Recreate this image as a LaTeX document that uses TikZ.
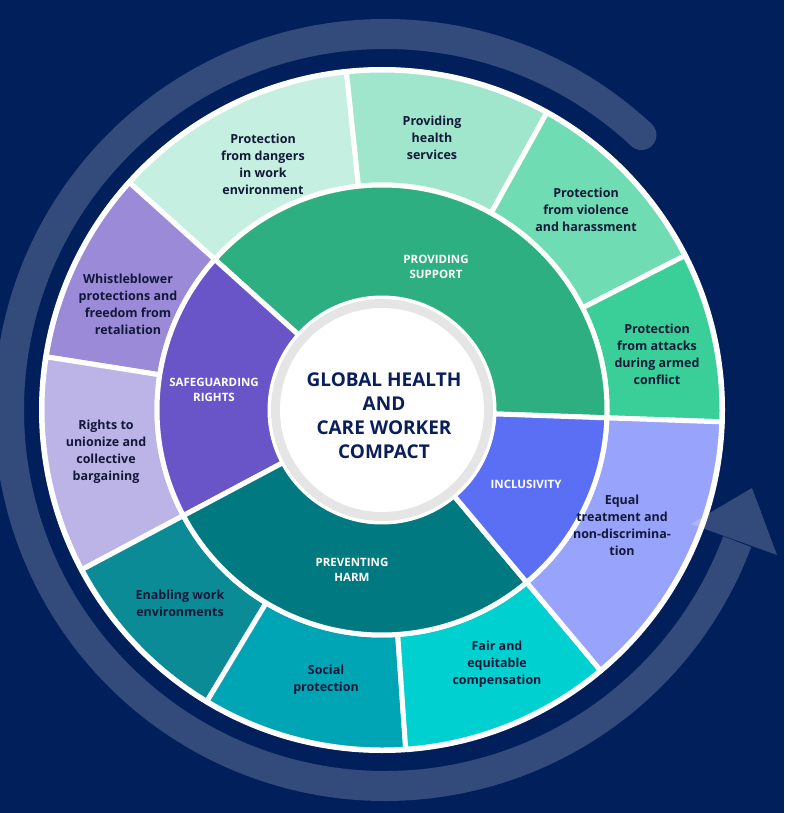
\documentclass[tikz,border=0pt]{standalone}
\usepackage{fontspec}
\setmainfont{Open Sans}
\definecolor{bg}{RGB}{0,31,91}
\definecolor{navy}{RGB}{18,24,56}
\definecolor{cnavy}{RGB}{10,30,90}
\definecolor{cA}{RGB}{46,175,130}
\definecolor{cA1}{RGB}{197,239,224}
\definecolor{cA2}{RGB}{160,230,204}
\definecolor{cA3}{RGB}{111,220,180}
\definecolor{cA4}{RGB}{58,207,152}
\definecolor{cB}{RGB}{106,85,200}
\definecolor{cB1}{RGB}{154,138,216}
\definecolor{cB2}{RGB}{188,179,230}
\definecolor{cC}{RGB}{0,122,128}
\definecolor{cC1}{RGB}{10,139,150}
\definecolor{cC2}{RGB}{0,165,181}
\definecolor{cC3}{RGB}{0,208,208}
\definecolor{cD}{RGB}{91,111,245}
\definecolor{cD1}{RGB}{152,164,251}
\newcommand{\seg}[5]{\fill[#5,draw=white,line width=5] (-#1:#3) arc[start angle=-#1,end angle=-#2,radius=#3] -- (-#2:#4) arc[start angle=-#2,end angle=-#1,radius=#4] -- cycle;}
\tikzset{outer/.style={text=navy,font=\fontsize{12.5}{17}\selectfont\bfseries,align=center},
inner/.style={text=white,font=\fontsize{11.5}{15}\selectfont\bfseries,align=center}}
\begin{document}
\begin{tikzpicture}[x=1pt,y=-1pt]
\fill[bg] (0,0) rectangle (784,813);
\useasboundingbox (0,0) rectangle (784,813);
\begin{scope}[shift={(382,410)}]
\fill[white] (0,0) circle (343);
\seg{138}{96}{225}{340}{cA1}
\seg{96}{61}{225}{340}{cA2}
\seg{61}{27}{225}{340}{cA3}
\seg{27}{-2}{225}{340}{cA4}
\seg{171}{138}{225}{340}{cB1}
\seg{208}{171}{225}{340}{cB2}
\seg{239}{208}{225}{340}{cC1}
\seg{274}{239}{225}{340}{cC2}
\seg{310}{274}{225}{340}{cC3}
\seg{358}{310}{225}{340}{cD1}
\seg{138}{-2}{112}{225}{cA}
\seg{208}{138}{112}{225}{cB}
\seg{310}{208}{112}{225}{cC}
\seg{358}{310}{112}{225}{cD}
\fill[white] (0,0) circle (114);
\fill[black!10] (0,0) circle (111);
\fill[white] (0,0) circle (102);
\end{scope}
\begin{scope}[transparency group,opacity=.2]
\draw[white,line width=30] (385,410) ++(-47:376) arc[start angle=-47,end angle=-339.5,radius=376];
\fill[white] (385,410) ++(-47:376) circle (15);
\fill[white] (691,524) -- (752,488) -- (777,555) -- cycle;
\end{scope}
\node[outer] (o1) at (263,164) {Protection\\from dangers\\in work\\environment};
\node[outer] (o2) at (432,138) {Providing\\health\\services};
\node[outer] (o3) at (586,210) {Protection\\from violence\\and harassment};
\node[outer] (o4) at (657,354) {Protection\\from attacks\\during armed\\conflict};
\node[outer] (o5) at (128,304) {Whistleblower\\protections and\\freedom from\\retaliation};
\node[outer] (o6) at (106,452) {Rights to\\unionize and\\collective\\bargaining};
\node[outer] (o7) at (180,603) {Enabling work\\environments};
\node[outer] (o8) at (326,680) {Social\\protection};
\node[outer] (o9) at (497,664) {Fair and\\equitable\\compensation};
\node[outer] (o10) at (622,525) {Equal\\treatment and\\non-discrimina-\\tion};
\node[inner] (i1) at (436,267) {PROVIDING\\SUPPORT};
\node[inner] (i2) at (214,390) {SAFEGUARDING\\RIGHTS};
\node[inner] (i3) at (352,570) {PREVENTING\\HARM};
\node[inner] (i4) at (526,484) {INCLUSIVITY};
\node[text=cnavy,font=\fontsize{19}{24}\selectfont\bfseries,align=center] (c) at (384,416) {GLOBAL HEALTH\\AND\\CARE WORKER\\COMPACT};
\end{tikzpicture}
\end{document}
